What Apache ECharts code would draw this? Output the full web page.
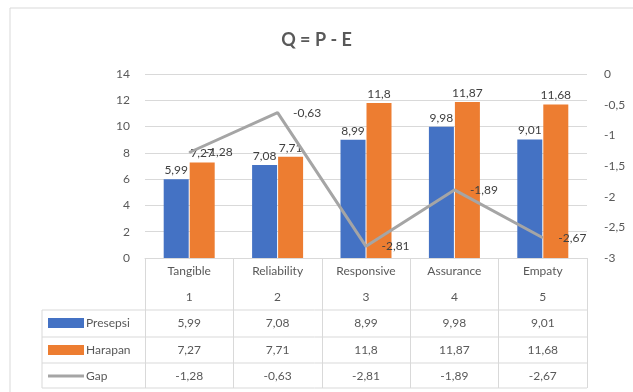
<!DOCTYPE html>
<html>
<head>
<meta charset="utf-8">
<script src="https://cdn.jsdelivr.net/npm/echarts@6/dist/echarts.min.js"></script>
<style>
	html, body { margin: 0; padding: 0; background: #fff; }
	#chart { width: 633px; height: 392px; }
</style>
</head>
<body>
<div id="chart"></div>
<script>
	// data
	var categories = ['Tangible', 'Reliability', 'Responsive', 'Assurance', 'Empaty'];
	var catNums = ['1', '2', '3', '4', '5'];
	var presepsi = [5.99, 7.08, 8.99, 9.98, 9.01];
	var harapan = [7.27, 7.71, 11.8, 11.87, 11.68];
	var gap = [-1.28, -0.63, -2.81, -1.89, -2.67];
	var seriesNames = ['Presepsi', 'Harapan', 'Gap'];

	var fontFam = 'Lato, "Noto Sans", sans-serif';
	var txtColor = '#595959';
	var lineColor = '#d9d9d9';

	function fmt(v) {
		return String(v).replace('.', ',');
	}

	// extra category axes used as the rows of the data table
	function tableAxis(values, offset) {
		return {
			type: 'category',
			position: 'bottom',
			offset: offset,
			data: values.map(fmt),
			axisLine: {show: false},
			axisTick: {show: false},
			axisLabel: {margin: 0, fontSize: 12, lineHeight: 14, color: txtColor, fontFamily: fontFam}
		};
	}

	var myChart = echarts.init(document.getElementById('chart'), null, {renderer: 'canvas'});
	var option = {
		animation: false,
		textStyle: {fontFamily: fontFam},
		title: {
			text: 'Q = P - E',
			left: 'center',
			top: 26,
			textStyle: {fontSize: 18, fontWeight: 'bold', color: txtColor, fontFamily: fontFam}
		},
		grid: {left: 145, right: 46, top: 74, bottom: 134},
		xAxis: [
			{
				type: 'category',
				data: categories,
				axisLine: {lineStyle: {color: lineColor}},
				axisTick: {show: true, length: 130, lineStyle: {color: lineColor}},
				axisLabel: {
					margin: 0,
					fontSize: 12,
					lineHeight: 26,
					color: txtColor,
					fontFamily: fontFam,
					formatter: function (v, i) { return v + '\n' + catNums[i]; }
				}
			},
			tableAxis(presepsi, 58),
			tableAxis(harapan, 85),
			tableAxis(gap, 111)
		],
		yAxis: [
			{
				type: 'value',
				min: 0,
				max: 14,
				interval: 2,
				axisLine: {show: false},
				axisTick: {show: false},
				splitLine: {lineStyle: {color: lineColor}},
				axisLabel: {margin: 15, fontSize: 12, color: txtColor, fontFamily: fontFam}
			},
			{
				type: 'value',
				min: -3,
				max: 0,
				interval: 0.5,
				axisLine: {show: false},
				axisTick: {show: false},
				splitLine: {show: false},
				axisLabel: {margin: 17, fontSize: 12, color: txtColor, fontFamily: fontFam, formatter: fmt}
			}
		],
		series: [
			{
				name: seriesNames[0],
				type: 'bar',
				data: presepsi,
				barWidth: 25,
				barGap: '4%',
				itemStyle: {color: '#4472C4'},
				label: {show: true, position: 'top', distance: 3, fontSize: 12, color: '#404040', formatter: function (p) { return fmt(p.value); }}
			},
			{
				name: seriesNames[1],
				type: 'bar',
				data: harapan,
				barWidth: 25,
				itemStyle: {color: '#ED7D31'},
				label: {show: true, position: 'top', distance: 3, fontSize: 12, color: '#404040', formatter: function (p) { return fmt(p.value); }}
			},
			{
				name: seriesNames[2],
				type: 'line',
				yAxisIndex: 1,
				data: gap,
				symbol: 'circle',
				symbolSize: 1,
				showSymbol: true,
				z: 3,
				lineStyle: {color: '#A5A5A5', width: 3},
				itemStyle: {color: '#A5A5A5'},
				label: {show: true, position: 'right', distance: 15, fontSize: 12, color: '#404040', formatter: function (p) { return fmt(p.value); }}
			}
		],
		graphic: [
			// outer chart border
			{type: 'rect', shape: {x: 10, y: 8, width: 640, height: 400}, style: {fill: 'none', stroke: '#d9d9d9', lineWidth: 1}, silent: true},
			// table lines
			{type: 'line', shape: {x1: 42, y1: 310, x2: 587, y2: 310}, style: {stroke: lineColor, lineWidth: 1}},
			{type: 'line', shape: {x1: 42, y1: 337, x2: 587, y2: 337}, style: {stroke: lineColor, lineWidth: 1}},
			{type: 'line', shape: {x1: 42, y1: 363, x2: 587, y2: 363}, style: {stroke: lineColor, lineWidth: 1}},
			{type: 'line', shape: {x1: 42, y1: 388, x2: 587, y2: 388}, style: {stroke: lineColor, lineWidth: 1}},
			{type: 'line', shape: {x1: 42, y1: 310, x2: 42, y2: 388}, style: {stroke: lineColor, lineWidth: 1}},
			// legend keys in the table
			{type: 'rect', shape: {x: 48, y: 318, width: 36, height: 10}, style: {fill: '#4472C4'}},
			{type: 'text', x: 86, y: 323, style: {text: seriesNames[0], fill: txtColor, fontSize: 12, fontFamily: fontFam, verticalAlign: 'middle'}},
			{type: 'rect', shape: {x: 48, y: 345, width: 36, height: 10}, style: {fill: '#ED7D31'}},
			{type: 'text', x: 86, y: 350, style: {text: seriesNames[1], fill: txtColor, fontSize: 12, fontFamily: fontFam, verticalAlign: 'middle'}},
			{type: 'line', shape: {x1: 48, y1: 376, x2: 84, y2: 376}, style: {stroke: '#A5A5A5', lineWidth: 3}},
			{type: 'text', x: 86, y: 376, style: {text: seriesNames[2], fill: txtColor, fontSize: 12, fontFamily: fontFam, verticalAlign: 'middle'}}
		]
	};
	myChart.setOption(option);
</script>
</body>
</html>
